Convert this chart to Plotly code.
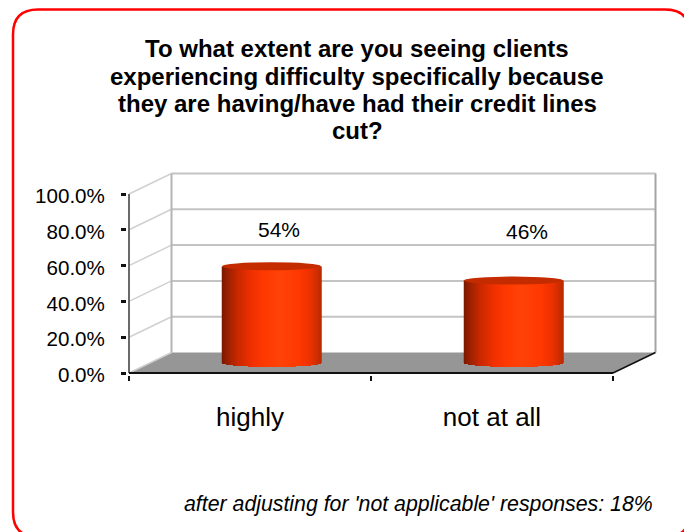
import numpy as np
import plotly.graph_objects as go

# Survey results
categories = ["highly", "not at all"]
values = [54, 46]
axis_ticks = [0, 20, 40, 60, 80, 100]
axis_tick_labels = ["0.0%", "20.0%", "40.0%", "60.0%", "80.0%", "100.0%"]
title_lines = [
    "To what extent are you seeing clients",
    "experiencing difficulty specifically because",
    "they are having/have had their credit lines",
    "cut?",
]
footnote = "after adjusting for 'not applicable' responses: 18%"

# Canvas and plot-area geometry
W, H = 684, 532
M_L, M_R, M_T, M_B = 127, 26, 172, 157
PX_X = 242.0   # pixels per category
PX_Y = 1.79    # pixels per percentage point
X_MIN = -0.5 - 2 / PX_X
X_MAX = X_MIN + (W - M_L - M_R) / PX_X
Y_MIN = -2 / PX_Y
Y_MAX = Y_MIN + (H - M_T - M_B) / PX_Y

# Oblique depth of the chart box
DX = 42.5 / PX_X
DY = 20.5 / PX_Y
LEFT, RIGHT = -0.5, 1.5

# Cylinder shape
BAR_HALF = 49.5 / PX_X
CAP_RY = 4.0 / PX_Y
BAR_SHIFT = 21.5 / PX_X
BAR_BASE = DY / 2 - 0.1

FONT = "Liberation Sans"
shading = [
    [0.00, "#7a1800"], [0.06, "#9c2000"], [0.16, "#c82800"], [0.30, "#f03000"],
    [0.42, "#ff3800"], [0.58, "#ff4208"], [0.78, "#ff3800"], [0.90, "#e83000"],
    [1.00, "#b82a00"],
]


def line(x0, y0, x1, y1, color, width):
    return dict(type="line", xref="x", yref="y", x0=x0, y0=y0, x1=x1, y1=y1,
                line=dict(color=color, width=width), layer="below")


def cylinder(center, value):
    """Shaded body of one cylinder as a heatmap, rounded along its lower rim."""
    xs = np.linspace(center - BAR_HALF, center + BAR_HALF, 200)
    top = value + BAR_BASE
    ys = np.arange(BAR_BASE - CAP_RY, top, 0.28)
    t = (xs - xs[0]) / (xs[-1] - xs[0])
    rim = BAR_BASE - CAP_RY * np.sqrt(np.clip(1 - (2 * t - 1) ** 2, 0, 1))
    z = np.tile(t, (len(ys), 1))
    z[ys[:, None] < rim[None, :]] = np.nan
    return go.Heatmap(x=xs, y=ys, z=z, colorscale=shading, zmin=0, zmax=1,
                      showscale=False, hoverinfo="skip")


fig = go.Figure()

shapes = []
# Floor
shapes.append(dict(
    type="path", xref="x", yref="y", layer="below",
    path=f"M {LEFT},0 L {RIGHT},0 L {RIGHT + DX},{DY} L {LEFT + DX},{DY} Z",
    fillcolor="#969696", line=dict(width=0),
))
# Wall rules and their returns on the side panel
for tick in axis_ticks[1:]:
    shapes.append(line(LEFT + DX, tick + DY, RIGHT + DX, tick + DY, "#c4c4c4", 2))
for tick in axis_ticks:
    shapes.append(line(LEFT, tick, LEFT + DX, tick + DY, "#d0d0d0", 1.5))
# Wall verticals, front axis and floor edges
shapes.append(line(LEFT + DX, DY, LEFT + DX, 100 + DY, "#b4b4b4", 2))
shapes.append(line(RIGHT + DX, DY, RIGHT + DX, 100 + DY, "#a4a4a4", 2))
shapes.append(line(LEFT, 0, LEFT, 100, "#6a6a6a", 2))
shapes.append(line(LEFT, 0, RIGHT, 0, "#111111", 2))
shapes.append(line(RIGHT, 0, RIGHT + DX, DY, "#111111", 1.5))

# Cylinders with their top caps
for i, v in enumerate(values):
    c = i + BAR_SHIFT
    fig.add_trace(cylinder(c, v))
    shapes.append(dict(
        type="circle", xref="x", yref="y", layer="above",
        x0=c - BAR_HALF, x1=c + BAR_HALF,
        y0=v + BAR_BASE - CAP_RY, y1=v + BAR_BASE + CAP_RY,
        fillcolor="#c42c00", line=dict(width=0),
    ))

# Rounded red frame, running off the right and bottom of the canvas
def px_x(p):
    return (p - M_L) / (W - M_L - M_R)


def px_y(p):
    return 1 - (p - M_T) / (H - M_T - M_B)


f_l, f_r, f_t, f_b, rad = 13, 690, 9.5, 537, 25
frame_path = (
    f"M {px_x(f_l + rad)},{px_y(f_t)} L {px_x(f_r - rad)},{px_y(f_t)} "
    f"Q {px_x(f_r)},{px_y(f_t)} {px_x(f_r)},{px_y(f_t + rad)} "
    f"L {px_x(f_r)},{px_y(f_b - rad)} "
    f"Q {px_x(f_r)},{px_y(f_b)} {px_x(f_r - rad)},{px_y(f_b)} "
    f"L {px_x(f_l + rad)},{px_y(f_b)} "
    f"Q {px_x(f_l)},{px_y(f_b)} {px_x(f_l)},{px_y(f_b - rad)} "
    f"L {px_x(f_l)},{px_y(f_t + rad)} "
    f"Q {px_x(f_l)},{px_y(f_t)} {px_x(f_l + rad)},{px_y(f_t)} Z"
)
shapes.append(dict(type="path", xref="paper", yref="paper", path=frame_path,
                   line=dict(color="#ff0000", width=2.5), layer="below"))

annotations = []
# Title, one annotation per line for its line spacing
for i, text in enumerate(title_lines):
    annotations.append(dict(
        xref="paper", yref="paper", x=px_x(357), y=px_y(49 + i * 27.3),
        text=f"<b>{text}</b>", showarrow=False, xanchor="center", yanchor="middle",
        font=dict(family=FONT, size=24, color="#000000"),
    ))
# Value labels
label_pos = [(0.12, 80.0), (1.145, 79.0)]
for (lx, ly), v in zip(label_pos, values):
    annotations.append(dict(
        xref="x", yref="y", x=lx, y=ly, text=f"{v}%", showarrow=False,
        xanchor="center", yanchor="middle",
        font=dict(family=FONT, size=21, color="#000000"),
    ))
# Footnote
annotations.append(dict(
    xref="paper", yref="paper", x=px_x(655), y=px_y(504), text=f"<i>{footnote}</i>",
    showarrow=False, xanchor="right", yanchor="middle",
    font=dict(family=FONT, size=21.3, color="#000000"),
))

# Carries the category boundary ticks on the overlaid axis
fig.add_trace(go.Scatter(x=[LEFT, RIGHT], y=[0, 0], xaxis="x2", yaxis="y", mode="lines",
                         line=dict(width=0), hoverinfo="skip", showlegend=False))

fig.update_layout(
    width=W, height=H, autosize=False,
    margin=dict(l=M_L, r=M_R, t=M_T, b=M_B),
    paper_bgcolor="#ffffff", plot_bgcolor="#ffffff",
    showlegend=False, shapes=shapes, annotations=annotations,
    xaxis=dict(
        range=[X_MIN, X_MAX], tickmode="array", tickvals=list(range(len(categories))),
        ticktext=categories, ticks="", showgrid=False, zeroline=False, showline=False,
        ticklabelstandoff=24, tickfont=dict(family=FONT, size=26, color="#000000"),
    ),
    xaxis2=dict(
        range=[X_MIN, X_MAX], overlaying="x", anchor="y", side="bottom",
        tickmode="array", tickvals=[LEFT, 0.5, RIGHT], showticklabels=False,
        ticks="outside", ticklen=5, tickwidth=2, tickcolor="#111111",
        showgrid=False, zeroline=False, showline=False,
    ),
    yaxis=dict(
        range=[Y_MIN, Y_MAX], tickmode="array", tickvals=axis_ticks,
        ticktext=axis_tick_labels, ticks="outside", ticklen=5, tickwidth=2.5,
        tickcolor="#111111", showgrid=False, zeroline=False, showline=False,
        ticklabelstandoff=12, ticklabelshift=2,
        tickfont=dict(family=FONT, size=20.6, color="#000000"),
    ),
)

fig.write_html("out.html", config=dict(displayModeBar=False))
